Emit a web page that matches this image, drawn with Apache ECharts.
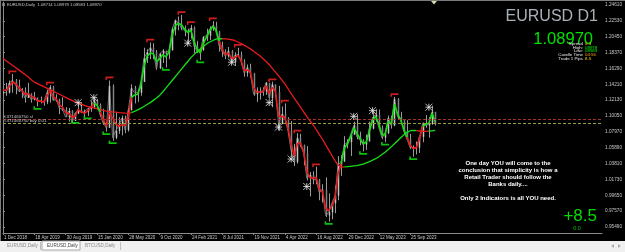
<!DOCTYPE html>
<html><head><meta charset="utf-8">
<script src="https://cdn.jsdelivr.net/npm/echarts@6/dist/echarts.min.js"></script>
<style>html,body{margin:0;padding:0;background:#000;overflow:hidden}#c{width:625px;height:252px}</style>
</head><body><div id="c"></div>
<script>
// ---- data ----
const dateLabels = ['1 Dec 2018','18 Apr 2019','30 Aug 2019','15 Jan 2020','28 May 2020','9 Oct 2020','24 Feb 2021','8 Jul 2021','19 Nov 2021','4 Apr 2022','16 Aug 2022','29 Dec 2022','12 May 2023','25 Sep 2023'];
const dateTickIndex = [0,10,20,30,40,50,60,70,80,90,100,110,120,130];
const priceTicks = [1.24610,1.22530,1.20450,1.18370,1.16290,1.14210,1.12130,1.10050,1.07970,1.05890,1.03810,1.01730,0.99650,0.97570,0.95490];

const closes = [1.1315,1.1310,1.1440,1.1470,1.1410,1.1330,1.1340,1.1240,1.1300,1.1220,
1.1250,1.1210,1.1200,1.1190,1.1310,1.1380,1.1210,1.1220,1.1110,1.1090,
1.0990,1.1070,1.0940,1.1040,1.1080,1.1050,1.1060,1.1100,1.1120,1.1210,
1.1150,1.1020,1.0910,1.0850,1.1400,1.0720,1.0810,1.0880,1.0980,1.0820,
1.1080,1.1370,1.1310,1.1310,1.1450,1.1760,1.1840,1.1900,1.1840,1.1630,
1.1820,1.1860,1.1830,1.1870,1.2140,1.2260,1.2220,1.2160,1.2120,1.2120,
1.2160,1.1920,1.1850,1.1870,1.2040,1.2060,1.2150,1.2190,1.2110,1.1930,
1.1850,1.1790,1.1860,1.1710,1.1800,1.1810,1.1720,1.1570,1.1640,1.1560,
1.1290,1.1310,1.1330,1.1330,1.1440,1.1240,1.1420,1.1320,1.0900,1.1030,
1.0970,1.0810,1.0550,1.0400,1.0720,1.0620,1.0520,1.0190,1.0230,1.0170,
1.0170,1.0000,1.0040,0.9700,0.9740,0.9860,0.9960,1.0360,1.0410,1.0630,
1.0660,1.0760,1.0880,1.0730,1.0690,1.0630,1.0670,1.0840,1.0990,1.1020,
1.0850,1.0720,1.0780,1.0980,1.0880,1.1230,1.0990,1.0950,1.0800,1.0700,
1.0590,1.0590,1.0590,1.0730,1.0910,1.0880,1.0900,1.1060,1.0897];

const highs = [1.1400,1.1440,1.1470,1.1555,1.1490,1.1480,1.1370,1.1380,1.1440,1.1300,
1.1320,1.1230,1.1260,1.1220,1.1350,1.1410,1.1400,1.1290,1.1230,1.1250,
1.1120,1.1110,1.1080,1.1050,1.1180,1.1180,1.1090,1.1110,1.1200,1.1240,
1.1230,1.1170,1.1100,1.0920,1.1470,1.1420,1.1050,1.0990,1.1010,1.1010,
1.1100,1.1420,1.1400,1.1350,1.1460,1.1900,1.1880,1.1970,1.1960,1.1870,
1.1830,1.1880,1.1860,1.1920,1.2170,1.2270,1.2310,1.2330,1.2190,1.2150,
1.2200,1.2180,1.1990,1.1890,1.2050,1.2150,1.2180,1.2250,1.2240,1.2120,
1.1980,1.1880,1.1910,1.1870,1.1840,1.1900,1.1850,1.1750,1.1680,1.1690,
1.1570,1.1380,1.1380,1.1380,1.1450,1.1440,1.1455,1.1400,1.1400,1.1130,
1.1170,1.0990,1.0940,1.0640,1.0780,1.0770,1.0630,1.0610,1.0270,1.0280,
1.0340,1.0180,1.0110,1.0200,0.9990,0.9870,1.0090,1.0480,1.0490,1.0740,
1.0700,1.0780,1.0930,1.1030,1.0800,1.0700,1.0760,1.0930,1.1075,1.1095,
1.1090,1.0880,1.0790,1.1010,1.1010,1.1255,1.1240,1.1060,1.0950,1.0950,
1.0770,1.0620,1.0670,1.0730,1.0920,1.1017,1.0990,1.1139,1.1050];

const lows = [1.1270,1.1270,1.1300,1.1310,1.1290,1.1320,1.1240,1.1180,1.1270,1.1180,
1.1210,1.1130,1.1170,1.1140,1.1160,1.1180,1.1210,1.1190,1.1030,1.1070,
1.0990,1.0930,1.0920,1.0940,1.1030,1.1050,1.1000,1.1005,1.1060,1.1100,
1.1090,1.1000,1.0890,1.0800,1.0850,1.0680,1.0700,1.0770,1.0750,1.0780,
1.0800,1.1080,1.1170,1.1190,1.1270,1.1450,1.1700,1.1750,1.1750,1.1610,
1.1620,1.1700,1.1640,1.1750,1.1860,1.2060,1.2130,1.2130,1.2050,1.1950,
1.2020,1.1830,1.1830,1.1740,1.1860,1.1990,1.2000,1.2120,1.2090,1.1850,
1.1780,1.1750,1.1770,1.1700,1.1660,1.1780,1.1680,1.1520,1.1520,1.1510,
1.1270,1.1190,1.1220,1.1270,1.1280,1.1230,1.1120,1.1260,1.0810,1.0900,
1.0950,1.0760,1.0470,1.0350,1.0380,1.0600,1.0360,1.0160,0.9950,1.0110,
1.0110,0.9900,0.9870,0.9680,0.9620,0.9650,0.9730,0.9900,1.0220,1.0400,
1.0580,1.0480,1.0760,1.0700,1.0620,1.0540,1.0560,1.0710,1.0830,1.0930,
1.0840,1.0700,1.0660,1.0770,1.0840,1.0870,1.0950,1.0910,1.0770,1.0690,
1.0570,1.0470,1.0500,1.0520,1.0660,1.0850,1.0720,1.0890,1.0880];

const slowMA = [1.1760,1.1730,1.1700,1.1670,1.1640,1.1610,1.1580,1.1550,1.1520,1.1480,
1.1450,1.1430,1.1410,1.1390,1.1370,1.1350,1.1330,1.1310,1.1290,1.1270,
1.1250,1.1230,1.1210,1.1190,1.1175,1.1160,1.1145,1.1130,1.1120,1.1110,
1.1100,1.1090,1.1080,1.1070,1.1065,1.1060,1.1056,1.1050,1.1046,1.1042,
1.1040,1.1050,1.1065,1.1085,1.1105,1.1130,1.1155,1.1180,1.1210,1.1240,
1.1275,1.1320,1.1370,1.1420,1.1470,1.1520,1.1570,1.1620,1.1670,1.1720,
1.1770,1.1810,1.1850,1.1885,1.1920,1.1950,1.1975,1.1995,1.2012,1.2020,
1.2018,1.2016,1.2012,1.2005,1.1995,1.1975,1.1955,1.1935,1.1910,1.1885,
1.1855,1.1825,1.1795,1.1760,1.1720,1.1680,1.1630,1.1580,1.1530,1.1480,
1.1425,1.1365,1.1300,1.1240,1.1180,1.1120,1.1060,1.1000,1.0945,1.0890,
1.0830,1.0765,1.0700,1.0630,1.0560,1.0490,1.0420,1.0360,1.0335,1.0337,
1.0340,1.0345,1.0350,1.0355,1.0365,1.0375,1.0390,1.0405,1.0425,1.0445,
1.0470,1.0500,1.0530,1.0565,1.0600,1.0640,1.0680,1.0720,1.0760,1.0790,
1.0810,1.0815,1.0812,1.0808,1.0805,1.0803,1.0805,1.0810,1.0815];

const fastMA = [1.1350,1.1340,1.1390,1.1450,1.1430,1.1380,1.1340,1.1290,1.1300,1.1260,
1.1250,1.1200,1.1200,1.1185,1.1260,1.1340,1.1260,1.1230,1.1150,1.1120,
1.1050,1.1040,1.0990,1.1000,1.1090,1.1060,1.1040,1.1070,1.1110,1.1170,
1.1150,1.1060,1.0960,1.0870,1.1050,1.0980,1.0900,1.0870,1.0890,1.0880,
1.0990,1.1250,1.1280,1.1290,1.1400,1.1650,1.1790,1.1830,1.1820,1.1720,
1.1750,1.1810,1.1780,1.1840,1.2050,1.2190,1.2220,1.2200,1.2140,1.2100,
1.2130,1.1980,1.1880,1.1830,1.1960,1.2040,1.2120,1.2180,1.2140,1.1990,
1.1880,1.1810,1.1830,1.1760,1.1770,1.1800,1.1740,1.1600,1.1610,1.1580,
1.1380,1.1320,1.1320,1.1320,1.1400,1.1300,1.1380,1.1330,1.1000,1.1000,
1.0990,1.0850,1.0640,1.0480,1.0640,1.0650,1.0540,1.0280,1.0200,1.0190,
1.0200,1.0040,1.0020,0.9800,0.9760,0.9820,0.9920,1.0250,1.0380,1.0580,
1.0640,1.0730,1.0850,1.0780,1.0710,1.0640,1.0660,1.0800,1.0950,1.1000,
1.0900,1.0760,1.0760,1.0930,1.0900,1.1160,1.1030,1.0960,1.0830,1.0730,
1.0620,1.0580,1.0590,1.0700,1.0870,1.0900,1.0910,1.1040,1.0930];

const swingHighMarks = [[3,1.1580],[15,1.1430],[34,1.1500],[47,1.1995],[57,1.2355],[60,1.2225],[67,1.2275],[75,1.1925],[86,1.1475],[90,1.1195],[94,1.0800],[100,1.0360],[125,1.1280]];
const swingLowMarks = [[11,1.1110],[23,1.0925],[27,1.0985],[33,1.0780],[35,1.0660],[52,1.1620],[63,1.1720],[104,0.9600],[115,1.0520],[122,1.0640],[131,1.0450]];
const starMarks = [[24,1.1180],[29,1.1245],[59,1.1960],[73,1.1710],[85,1.1180],[88,1.0860],[92,1.0440],[97,1.0080],[112,1.1000],[118,1.1075],[136,1.1120]];

const currentPrice = 1.08970;
const slLevel = 1.0965;
const buyLevel = 1.0905;
const headerText = 'EURUSD,Daily  1.08714 1.08978 1.08583 1.08970';
const infoLabels = ['Spread','High:','Low:','Candle Time','Trade 1 Pips'];
const infoValues = ['0.3','08978','08583','04:56','8.5'];
const messageLines = ['One day YOU will come to the','conclusion that simplicity is how a','Retail Trader should follow the','Banks daily....','','Only 2 Indicators is all YOU need.'];
const tabNames = ['EURUSD,Daily','EURUSD,Daily','BTCUSD,Daily'];

// ---- build ----
const FONT = '"Liberation Sans", Arial, sans-serif';
const yMin = 0.94703, yMax = 1.24999, xMax = 191.3;
const RED = '#e61c1c', GREEN = '#12e012';

const candleData = closes.map((c,i)=>[i, i>0?closes[i-1]:c, c, lows[i], highs[i]]);
function split(values, isGreen){
  const g=[], r=[];
  for(let i=0;i<values.length;i++){
    const gr = isGreen(i);
    g.push([i, gr?values[i]:'-']); r.push([i, gr?'-':values[i]]);
  }
  for(let i=1;i<values.length;i++){
    const a=isGreen(i-1), b=isGreen(i);
    if(a!==b){ if(a) g[i]=[i,values[i]]; else r[i]=[i,values[i]]; }
  }
  return [g,r];
}
const [slowG, slowR] = split(slowMA, i => i===0 ? slowMA[1]>=slowMA[0] : slowMA[i]>=slowMA[i-1]);
const [fastG, fastR] = split(fastMA, i => fastMA[i] >= slowMA[i]);

function txt(x,y,text,size,fill,align,weight){
  return {type:'text', x:x, y:y, silent:true, z:50,
    style:{text:text, fontSize:size, fontFamily:FONT, fontWeight:weight||'normal', fill:fill, align:align||'left', verticalAlign:'middle'}};
}
const els = [];
els.push({type:'rect', shape:{x:0,y:0,width:625,height:1}, style:{fill:'#7a7a7a'}, silent:true});
els.push({type:'rect', shape:{x:0,y:0,width:1,height:241}, style:{fill:'#7a7a7a'}, silent:true});
els.push({type:'rect', shape:{x:2.5,y:3,width:2,height:3}, style:{fill:'#d0d0d0'}, silent:true});
els.push(txt(7,4.6,headerText,4.2,'#c8c8c8'));
els.push(txt(598,17,'EURUSD D1',16,'#aab0b8','right'));
els.push(txt(593,39,currentPrice.toFixed(5),16.5,'#00e000','right'));
const infoColors = ['#ffd700','#00ff00','#00ff00','#ffa000','#ffd700'];
infoLabels.forEach((l,k)=>{
  els.push(txt(583,43.5+k*3.8,l,4.4,'#e8e8e8','right'));
  els.push(txt(585,43.5+k*3.8,infoValues[k],4.4,infoColors[k],'left'));
});
const msgY = [163,170.5,177.5,184.5,0,198];
messageLines.forEach((l,k)=>{ if(l) els.push(txt(508,msgY[k],l,6,'#ffffff','center','bold')); });
els.push(txt(597,216,'+8.5',17,'#00e000','right'));
els.push(txt(577,228.5,'0.0',5.5,'#00c000','center'));
els.push({type:'polygon', shape:{points:[[431,1],[437,1],[434,4.5]]}, style:{fill:'#d8d8a8'}, silent:true});
// tab bar
els.push({type:'rect', shape:{x:0,y:241,width:625,height:11}, style:{fill:'#f0f0f0'}, silent:true});
els.push({type:'rect', shape:{x:42,y:241,width:38,height:9}, style:{fill:'#ffffff', stroke:'#a8a8a8', lineWidth:1}, silent:true});
els.push({type:'line', shape:{x1:40.5,y1:242,x2:40.5,y2:250}, style:{stroke:'#c0c0c0'}, silent:true});
els.push({type:'line', shape:{x1:120.5,y1:242,x2:120.5,y2:250}, style:{stroke:'#c0c0c0'}, silent:true});
els.push(txt(7,246,tabNames[0],4.6,'#8a8a8a'));
els.push(txt(47,246,tabNames[1],4.6,'#404040'));
els.push(txt(85,246,tabNames[2],4.6,'#8a8a8a'));
els.push({type:'polygon', shape:{points:[[611,246],[614,244],[614,248]]}, style:{fill:'#b0b0b0'}, silent:true});
els.push({type:'polygon', shape:{points:[[621,246],[618,244],[618,248]]}, style:{fill:'#b0b0b0'}, silent:true});

const lineBase = {type:'line', showSymbol:false, symbol:'none', animation:false, silent:true, connectNulls:false};

const option = {
  backgroundColor:'#000',
  animation:false,
  grid:{left:3, right:22, top:2, bottom:19, containLabel:false},
  xAxis:{type:'value', min:0, max:xMax,
    axisLine:{show:true, lineStyle:{color:'#8a8a8a', width:1}},
    axisTick:{show:true, length:2, customValues:dateTickIndex, lineStyle:{color:'#8a8a8a'}},
    axisLabel:{customValues:dateTickIndex, formatter:v=>dateLabels[dateTickIndex.indexOf(Math.round(v))]||'',
      align:'left', color:'#c8c8c8', fontSize:4.5, fontFamily:FONT, margin:2, padding:[0,0,0,1], hideOverlap:false},
    splitLine:{show:false}},
  yAxis:{type:'value', position:'right', min:yMin, max:yMax,
    axisLine:{show:true, lineStyle:{color:'#8a8a8a', width:1}},
    axisTick:{show:true, length:2, customValues:priceTicks, lineStyle:{color:'#8a8a8a'}},
    axisLabel:{customValues:priceTicks, formatter:v=>v.toFixed(5), color:'#c8c8c8', fontSize:4.7, fontFamily:FONT, margin:3, hideOverlap:false},
    splitLine:{show:false}},
  graphic:{elements:els},
  series:[
    {type:'line', name:'closeTrace', data:closes.map((c,i)=>[i,c]), showSymbol:false, symbol:'none', silent:true, z:1,
      lineStyle:{color:'#6e6e6e', width:1}},
    {type:'custom', name:'price', data:candleData, encode:{x:0,y:[1,2,3,4]}, clip:true, z:2, silent:true,
      renderItem:function(params, api){
        const i=api.value(0), o=api.value(1), c=api.value(2), l=api.value(3), h=api.value(4);
        const pH=api.coord([i,h]), pL=api.coord([i,l]), pO=api.coord([i,o]), pC=api.coord([i,c]);
        const x=Math.round(pH[0])+0.5;
        const top=Math.min(pO[1],pC[1]);
        return {type:'group', children:[
          {type:'line', shape:{x1:x,y1:pH[1],x2:x,y2:pL[1]}, style:{stroke:'#9a9a9a', lineWidth:1}},
          {type:'rect', shape:{x:x-0.75,y:top,width:1.5,height:Math.max(1,Math.abs(pO[1]-pC[1]))}, style:{fill:c>=o?'#c4c4c4':'#808080'}}
        ]};
      }},
    Object.assign({}, lineBase, {name:'slowR', data:slowR, z:3, lineStyle:{color:RED, width:1.3}}),
    Object.assign({}, lineBase, {name:'slowG', data:slowG, z:3, lineStyle:{color:GREEN, width:1.3}}),
    Object.assign({}, lineBase, {name:'fastR', data:fastR, z:4, lineStyle:{color:RED, width:1.6},
      markLine:{symbol:['none','none'], silent:true, animation:false, precision:5,
        data:[
          {yAxis:slLevel, lineStyle:{color:'#a83030', type:[3,2], width:1},
            label:{show:true, position:'insideStartTop', formatter:'#471460750 sl', color:'#c8c8c8', fontSize:4.4, fontFamily:FONT, distance:[1,0.5]}},
          {yAxis:buyLevel, lineStyle:{color:'#9c9c40', type:[3,2], width:1},
            label:{show:true, position:'insideStartTop', formatter:'#471460750 buy 0.01', color:'#c8c8c8', fontSize:4.4, fontFamily:FONT, distance:[1,0.5]}},
          {yAxis:currentPrice, lineStyle:{opacity:0},
            label:{show:true, position:'end', formatter:currentPrice.toFixed(5), backgroundColor:'#ffffff', color:'#000000', fontSize:4.7, fontFamily:FONT, padding:[1,2,0,2], distance:2}}
        ]}}),
    Object.assign({}, lineBase, {name:'fastG', data:fastG, z:4, lineStyle:{color:GREEN, width:1.6}}),
    {type:'scatter', name:'swingHigh', data:swingHighMarks, z:5, silent:true, symbol:'path://M0,0H10V2H2V4H0Z', symbolSize:[8,3.5], itemStyle:{color:'#ff2424'}},
    {type:'scatter', name:'swingLow', data:swingLowMarks, z:5, silent:true, symbol:'path://M0,0H2V2H10V4H0Z', symbolSize:[8,3.5], itemStyle:{color:'#10f010'}},
    {type:'scatter', name:'stars', data:starMarks, z:5, silent:true, symbol:'path://M0,0L10,10M10,0L0,10M5,0L5,10M0,5L10,5', symbolSize:7,
      itemStyle:{color:'rgba(0,0,0,0)', borderColor:'#e8e8e8', borderWidth:1}}
  ]
};
const chart = echarts.init(document.getElementById('c'), null, {renderer:'canvas', width:625, height:252});
chart.setOption(option);
</script>
</body></html>
